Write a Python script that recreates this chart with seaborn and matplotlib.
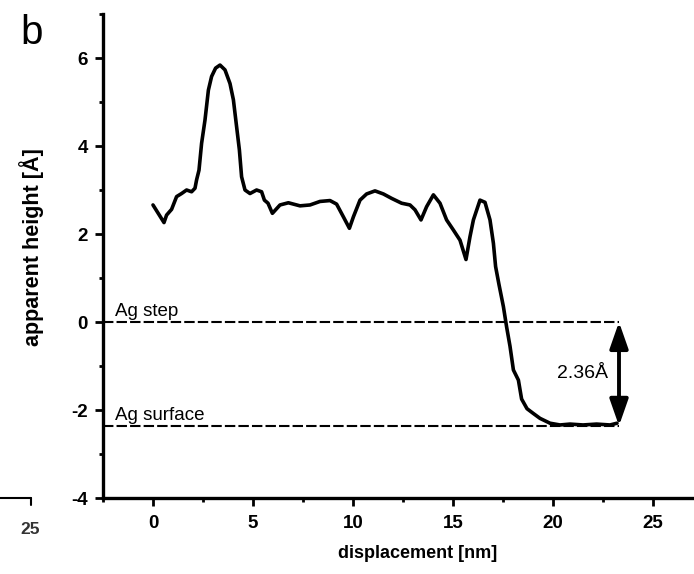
import numpy as np
import pandas as pd
import matplotlib
matplotlib.use("Agg")
import matplotlib.pyplot as plt
from matplotlib.lines import Line2D
from matplotlib.ticker import MultipleLocator
import seaborn as sns

# line profile
displacement = [0.0, 0.55, 0.68, 0.93, 1.18, 1.43, 1.68, 1.93, 2.1, 2.18, 2.3, 2.43,
                2.6, 2.77, 2.93, 3.13, 3.35, 3.6, 3.85, 4.02, 4.18, 4.32, 4.43, 4.6,
                4.85, 5.18, 5.43, 5.57, 5.75, 5.97, 6.35, 6.77, 7.35, 7.85, 8.35, 8.85,
                9.18, 9.52, 9.82, 10.02, 10.35, 10.68, 11.1, 11.52, 11.93, 12.43, 12.85,
                13.1, 13.4, 13.68, 14.02, 14.35, 14.68, 15.02, 15.35, 15.65, 15.85, 16.02,
                16.35, 16.6, 16.85, 17.02, 17.13, 17.3, 17.52, 17.68, 17.85, 18.02, 18.27,
                18.43, 18.7, 19.02, 19.35, 19.85, 20.35, 20.85, 21.5, 22.18, 22.85, 23.2]
height = [2.66, 2.26, 2.43, 2.56, 2.85, 2.92, 3.0, 2.96, 3.04, 3.23, 3.45, 4.06,
          4.59, 5.27, 5.58, 5.77, 5.84, 5.73, 5.42, 5.05, 4.44, 3.91, 3.30, 3.0,
          2.92, 3.0, 2.96, 2.77, 2.70, 2.47, 2.66, 2.71, 2.64, 2.66, 2.74, 2.76,
          2.68, 2.39, 2.13, 2.39, 2.77, 2.91, 2.98, 2.91, 2.81, 2.70, 2.66,
          2.55, 2.32, 2.62, 2.89, 2.70, 2.32, 2.09, 1.86, 1.42, 1.94, 2.32,
          2.77, 2.72, 2.32, 1.79, 1.26, 0.85, 0.35, -0.11, -0.55, -1.09, -1.32,
          -1.75, -1.97, -2.08, -2.19, -2.30, -2.34, -2.32, -2.34, -2.32, -2.34, -2.30]

step_level = 0.0
surface_level = -2.36
step_height_label = "2.36Å"

df = pd.DataFrame({"displacement": displacement, "height": height})

sns.set_style("ticks")
plt.rcParams["font.family"] = ["Liberation Sans", "DejaVu Sans"]
plt.rcParams["axes.unicode_minus"] = False
plt.rcParams["text.color"] = "black"
plt.rcParams["axes.labelcolor"] = "black"
plt.rcParams["xtick.color"] = "black"
plt.rcParams["ytick.color"] = "black"
plt.rcParams["axes.edgecolor"] = "black"

fig = plt.figure(figsize=(6.94, 5.74), dpi=100)
ax = fig.add_axes([0.1484, 0.1324, 0.8516, 0.8432])

sns.lineplot(data=df, x="displacement", y="height", color="black", lw=2.6, ax=ax)

x_end = displacement[-1] + 0.1
for lvl in (step_level, surface_level):
    ax.plot([-2.5, x_end], [lvl, lvl], color="black", lw=1.5, dashes=(5, 1.5))

ax.text(-1.9, step_level + 0.05, "Ag step", fontsize=13.5, va="bottom", ha="left")
ax.text(-1.9, surface_level + 0.05, "Ag surface", fontsize=13.5, va="bottom", ha="left")

ax.annotate("", xy=(x_end, step_level), xytext=(x_end, surface_level),
            arrowprops=dict(arrowstyle="<|-|>,head_width=0.35,head_length=1.0",
                            color="black", lw=2.8, mutation_scale=16, shrinkA=0, shrinkB=0))
ax.text(22.75, (step_level + surface_level) / 2, step_height_label, fontsize=14,
        ha="right", va="center")

ax.set_xlim(-2.5, 27.05)
ax.set_ylim(-4, 7)
ax.xaxis.set_major_locator(MultipleLocator(5))
ax.xaxis.set_minor_locator(MultipleLocator(2.5))
ax.yaxis.set_major_locator(MultipleLocator(2))
ax.yaxis.set_minor_locator(MultipleLocator(1))
ax.tick_params(which="major", length=6, width=2, labelsize=13.5, direction="out")
ax.tick_params(which="minor", length=3, width=2, direction="out")
ax.tick_params(axis="x", pad=6)
ax.tick_params(axis="y", pad=5)
for lab in ax.get_xticklabels() + ax.get_yticklabels():
    lab.set_fontweight("bold")
for s in ("left", "bottom"):
    ax.spines[s].set_linewidth(2.4)
sns.despine(ax=ax)

ax.set_xlabel("displacement [nm]", fontsize=13, fontweight="bold")
ax.xaxis.set_label_coords(0.533, -0.097)
ax.set_ylabel("apparent height [Å]", fontsize=15.5, fontweight="bold")
ax.yaxis.set_label_coords(-0.100, 0.519)

fig.text(0.03, 0.975, "b", fontsize=29, ha="left", va="top")

# edge of neighbouring panel visible at lower left
fig.add_artist(Line2D([0.0, 0.044], [0.1324, 0.1324], color="black", lw=1.5))
fig.add_artist(Line2D([0.044, 0.044], [0.1324, 0.12], color="black", lw=1.5))
fig.text(0.044, 0.07, "25", fontsize=12.5, fontweight="bold", ha="center", color="#333333")

fig.savefig("out.png", dpi=100)
